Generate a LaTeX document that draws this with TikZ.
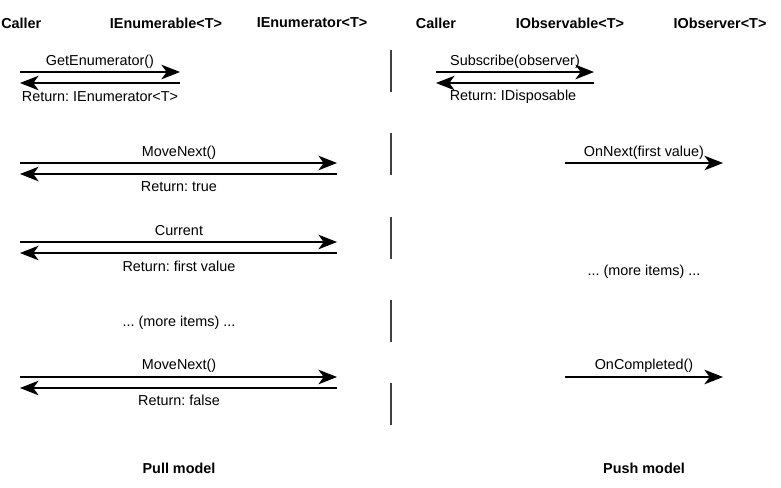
\documentclass[tikz,border=0pt]{standalone}
\usepackage{fontspec}
\setmainfont{Liberation Sans}
\frenchspacing
\usetikzlibrary{arrows.meta}
\tikzset{
 msg/.style={-{Stealth[length=14pt,width=11pt,inset=4pt]},line width=.8pt},
 hdr/.style={font=\fontsize{10.8}{13}\selectfont\bfseries,inner sep=0pt},
 lbl/.style={inner sep=0pt},
 sep/.style={line width=.9pt,black!75}
}
\begin{document}
\begin{tikzpicture}[x=.75pt,y=-.75pt,font=\fontsize{10.8}{13}\selectfont]
\useasboundingbox (0,0) rectangle (781,487);
\node[hdr,anchor=west] (callerL) at (1,23) {Caller};
\node[hdr] (enumerable) at (166,23) {IEnumerable<T>};
\node[hdr] (enumerator) at (312,23) {IEnumerator<T>};
\node[hdr] (callerR) at (436,23) {Caller};
\node[hdr] (observable) at (570,23) {IObservable<T>};
\node[hdr] (observer) at (720,23) {IObserver<T>};

\foreach \n/\y/\xe in {1/72/180,2/163/337,3/242/337,4/377/337}{
 \coordinate (pc\n) at (20,\y); \coordinate (pe\n) at (\xe,\y);
 \coordinate (rc\n) at (20,\y+11); \coordinate (re\n) at (\xe,\y+11);
 \draw[msg] (pc\n) -- (pe\n);
 \draw[msg] (re\n) -- (rc\n);
}
\node[lbl] (getenum) at (100,62) {GetEnumerator()};
\node[lbl] (retenum) at (100,97) {Return: IEnumerator<T>};
\node[lbl] (move1) at (179,153) {MoveNext()};
\node[lbl] (rettrue) at (179,187) {Return: true};
\node[lbl] (current) at (179,231) {Current};
\node[lbl] (retfirst) at (179,266) {Return: first value};
\node[lbl] (moreL) at (179,323) {... (more items) ...};
\node[lbl] (move2) at (179,366) {MoveNext()};
\node[lbl] (retfalse) at (179,400) {Return: false};
\node[hdr] (pull) at (179,468) {Pull model};

\foreach \i in {0,...,4}
 \draw[sep] (391,50+83.3*\i) -- (391,92+83.3*\i);

\coordinate (sc) at (436,72); \coordinate (so) at (594,72);
\coordinate (rsc) at (436,83); \coordinate (rso) at (594,83);
\draw[msg] (sc) -- (so);
\draw[msg] (rso) -- (rsc);
\node[lbl] (subscribe) at (515,62) {Subscribe(observer)};
\node[lbl] (retdisp) at (513,97) {Return: IDisposable};

\coordinate (nx1) at (565,163); \coordinate (nx2) at (723,163);
\draw[msg] (nx1) -- (nx2);
\node[lbl] (onnext) at (644,153) {OnNext(first value)};
\node[lbl] (moreR) at (644,272) {... (more items) ...};
\coordinate (oc1) at (565,377); \coordinate (oc2) at (723,377);
\draw[msg] (oc1) -- (oc2);
\node[lbl] (oncompl) at (644,366) {OnCompleted()};
\node[hdr] (push) at (644,468) {Push model};
\end{tikzpicture}
\end{document}
